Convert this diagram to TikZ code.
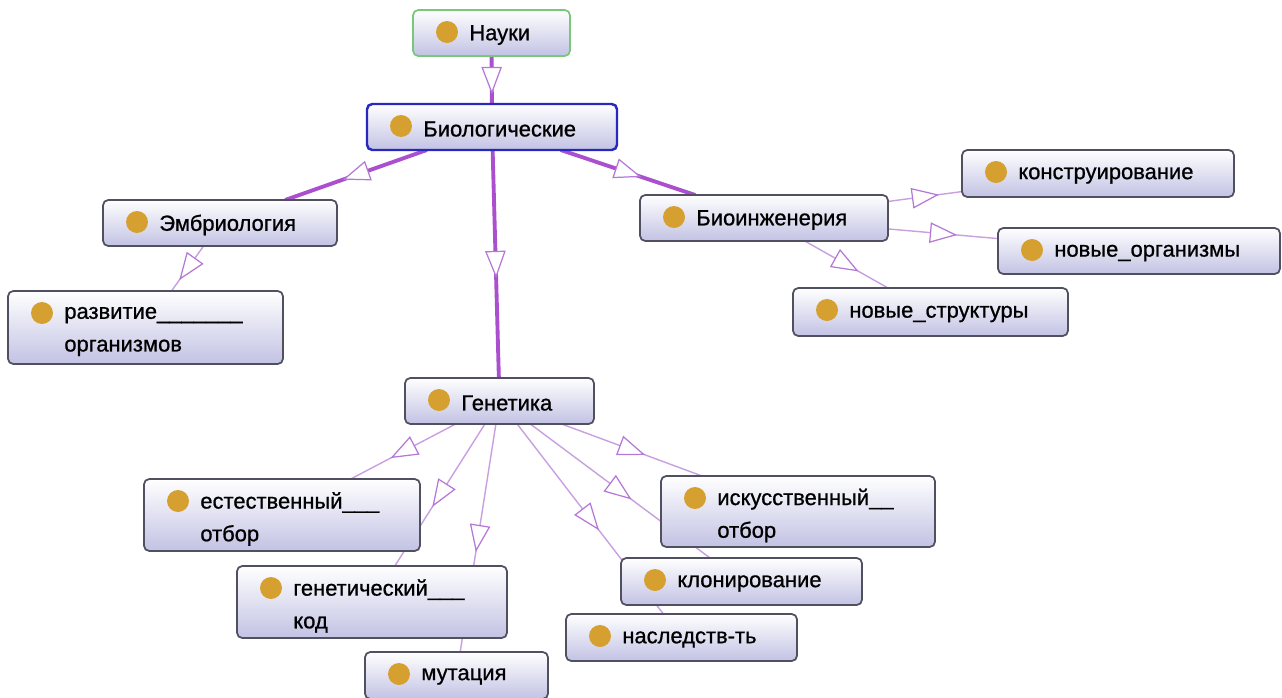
\documentclass[tikz,border=0pt]{standalone}
\usepackage{fontspec}
\setmainfont{Liberation Sans}
\newfontfamily\lblfont[FakeBold=0.8]{Liberation Sans}
\usetikzlibrary{fit,decorations.markings,backgrounds}
\definecolor{dotc}{RGB}{214,160,48}
\definecolor{thickc}{RGB}{170,80,206}
\definecolor{thinc}{RGB}{200,160,224}
\definecolor{tric}{RGB}{180,120,214}
\definecolor{boxline}{RGB}{80,80,96}
\definecolor{boxbot}{RGB}{194,194,228}
\definecolor{greenb}{RGB}{120,200,120}
\definecolor{blueb}{RGB}{40,40,190}
\tikzset{
  x=0.02cm, y=-0.02cm,
  cbox/.style={draw=boxline, line width=1pt, rounded corners=3pt,
    top color=white, bottom color=boxbot, inner sep=0pt, outer sep=0pt},
  lbl/.style={font=\lblfont\fontsize{12.5}{18.6}\selectfont, anchor=west, inner sep=0pt, align=left},
  isa/.style={postaction={decorate}, decoration={markings,
    mark=at position 0.5 with {\draw[draw=tric, fill=white, line width=0.7pt, line join=miter]
      (0.25cm,0cm) -- (-0.25cm,0.19cm) -- (-0.25cm,-0.19cm) -- cycle;}}},
  thickedge/.style={draw=thickc, line width=2.2pt, isa},
  thinedge/.style={draw=thinc, line width=0.8pt, isa}
}
% #1 name, #2-#5 box corners, #6 extra box style, #7 text, #8 vertical text shift
\newcommand\ontocls[8]{%
  \node[cbox,#6,fit={(#2,#3) (#4,#5)}] (#1) {};
  \fill[dotc] (#2+34,#3+22) circle[radius=0.22cm];
  \node[lbl] (#1t) at (#2+56,{(#3+#5)/2+#8}) {#7};
}
\begin{document}
\begin{tikzpicture}
\useasboundingbox (0,0) rectangle (1282,697);
\ontocls{nauki}{413}{10}{570}{56}{draw=greenb}{Науки}{2}
\ontocls{bio}{367}{104}{617}{150}{draw=blueb,line width=1.4pt}{Биологические}{2}
\ontocls{emb}{103}{200}{337}{246}{}{Эмбриология}{2}
\ontocls{razv}{8}{291}{283}{364}{}{развитие\_\_\_\_\_\_\_\\организмов}{4}
\ontocls{bioing}{640}{195}{888}{241}{}{Биоинженерия}{2}
\ontocls{konst}{962}{150}{1234}{197}{}{конструирование}{2}
\ontocls{novorg}{998}{228}{1280}{274}{}{новые\_организмы}{2}
\ontocls{novstr}{793}{288}{1068}{336}{}{новые\_структуры}{2}
\ontocls{gen}{405}{378}{594}{424}{}{Генетика}{2}
\ontocls{est}{144}{479}{420}{551}{}{естественный\_\_\_\\отбор}{4}
\ontocls{gkod}{237}{566}{507}{638}{}{генетический\_\_\_\\код}{4}
\ontocls{mut}{365}{652}{548}{699}{}{мутация}{1}
\ontocls{isk}{661}{476}{935}{547}{}{искусственный\_\_\\отбор}{4}
\ontocls{klon}{621}{558}{862}{605}{}{клонирование}{2}
\ontocls{nasl}{566}{614}{797}{661}{}{наследств-ть}{2}
\begin{scope}[on background layer]
\draw[thickedge] (nauki) -- (bio);
\draw[thickedge] (bio) -- (emb);
\draw[thickedge] (bio) -- (gen);
\draw[thickedge] (bio) -- (bioing);
\draw[thinedge] (emb) -- (razv);
\draw[thinedge] (bioing) -- (konst);
\draw[thinedge] (bioing) -- (novorg);
\draw[thinedge] (bioing) -- (novstr);
\draw[thinedge] (gen) -- (est);
\draw[thinedge] (gen) -- (gkod);
\draw[thinedge] (gen) -- (mut);
\draw[thinedge] (gen) -- (nasl);
\draw[thinedge] (gen) -- (klon);
\draw[thinedge] (gen) -- (isk);
\end{scope}
\end{tikzpicture}
\end{document}
